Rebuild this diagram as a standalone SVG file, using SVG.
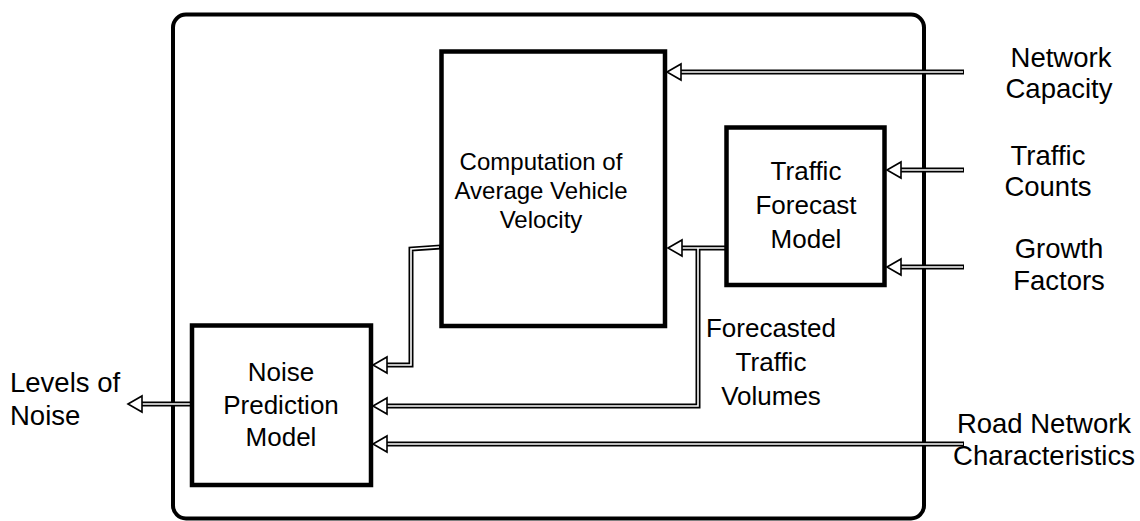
<svg xmlns="http://www.w3.org/2000/svg" width="1140" height="521" viewBox="0 0 1140 521">
  <style>
    .box { fill: #fff; stroke: #000; stroke-width: 4.5; }
    .frame { fill: none; stroke: #000; stroke-width: 4; }
    .wire-o { fill: none; stroke: #000; stroke-width: 5; stroke-linejoin: miter; }
    .wire-i { fill: none; stroke: #fff; stroke-width: 1.6; stroke-linejoin: miter; }
    .head { fill: #fff; stroke: #000; stroke-width: 1.6; stroke-linejoin: miter; }
    text { font-family: "Liberation Sans", Arial, sans-serif; font-size: 26px; fill: #000; }
    .c { text-anchor: middle; }
    .sm { font-size: 24px; }
    .lg { font-size: 27.5px; }
  </style>

  <!-- system boundary -->
  <rect class="frame" x="173" y="14.5" width="751" height="504" rx="13" ry="13"/>

  <!-- connectors -->
  <g id="connectors">
    <g id="wire-outer">
      <path class="wire-o" d="M964 72 H676"/>
      <path class="wire-o" d="M964 170 H896"/>
      <path class="wire-o" d="M964 267 H896"/>
      <path class="wire-o" d="M727 248 H677"/>
      <path class="wire-o" d="M698 248 V406 H383"/>
      <path class="wire-o" d="M441 247 L411 249 V365 H383"/>
      <path class="wire-o" d="M964 444 H383"/>
      <path class="wire-o" d="M192 404 H140"/>
    </g>
    <g id="wire-inner">
      <path class="wire-i" d="M963 72 H676"/>
      <path class="wire-i" d="M963 170 H896"/>
      <path class="wire-i" d="M963 267 H896"/>
      <path class="wire-i" d="M725 248 H677"/>
      <path class="wire-i" d="M698 248 V406 H383"/>
      <path class="wire-i" d="M439 247 L411 249 V365 H383"/>
      <path class="wire-i" d="M963 444 H383"/>
      <path class="wire-i" d="M190 404 H140"/>
    </g>
    <g id="heads">
      <polygon class="head" points="667,72 681,64 681,80"/>
      <polygon class="head" points="887,170 901,162 901,178"/>
      <polygon class="head" points="887,267 901,259 901,275"/>
      <polygon class="head" points="668,248 682,240 682,256"/>
      <polygon class="head" points="373,406 387,398 387,414"/>
      <polygon class="head" points="373,365 387,357 387,373"/>
      <polygon class="head" points="373,444 387,436 387,452"/>
      <polygon class="head" points="128,404 142,396 142,412"/>
    </g>
  </g>

  <!-- process blocks -->
  <g id="velocity">
    <rect class="box" x="441.5" y="51.5" width="223.5" height="274.5"/>
    <text class="c sm" x="541" y="170">Computation of</text>
    <text class="c sm" x="541" y="199">Average Vehicle</text>
    <text class="c sm" x="541" y="228">Velocity</text>
  </g>

  <g id="forecast">
    <rect class="box" x="726.5" y="127.5" width="158" height="157.5"/>
    <text class="c" x="806" y="180">Traffic</text>
    <text class="c" x="806" y="214">Forecast</text>
    <text class="c" x="806" y="248">Model</text>
  </g>

  <g id="noise">
    <rect class="box" x="192" y="325.5" width="179" height="159.5"/>
    <text class="c" x="281" y="381">Noise</text>
    <text class="c" x="281" y="414">Prediction</text>
    <text class="c" x="281" y="446">Model</text>
  </g>

  <!-- external inputs and outputs -->
  <g id="capacity">
    <text class="c lg" x="1061" y="67">Network</text>
    <text class="c lg" x="1059" y="98">Capacity</text>
  </g>
  <g id="counts">
    <text class="c lg" x="1048" y="165">Traffic</text>
    <text class="c lg" x="1048" y="196">Counts</text>
  </g>
  <g id="growth">
    <text class="c lg" x="1059" y="258">Growth</text>
    <text class="c lg" x="1059" y="290">Factors</text>
  </g>
  <g id="road">
    <text class="c lg" x="1044" y="433">Road Network</text>
    <text class="c lg" x="1044" y="465">Characteristics</text>
  </g>
  <g id="volumes">
    <text class="c" x="771" y="337">Forecasted</text>
    <text class="c" x="771" y="371">Traffic</text>
    <text class="c" x="771" y="405">Volumes</text>
  </g>
  <g id="levels">
    <text class="lg" x="10" y="392">Levels of</text>
    <text class="lg" x="10" y="425">Noise</text>
  </g>
</svg>
